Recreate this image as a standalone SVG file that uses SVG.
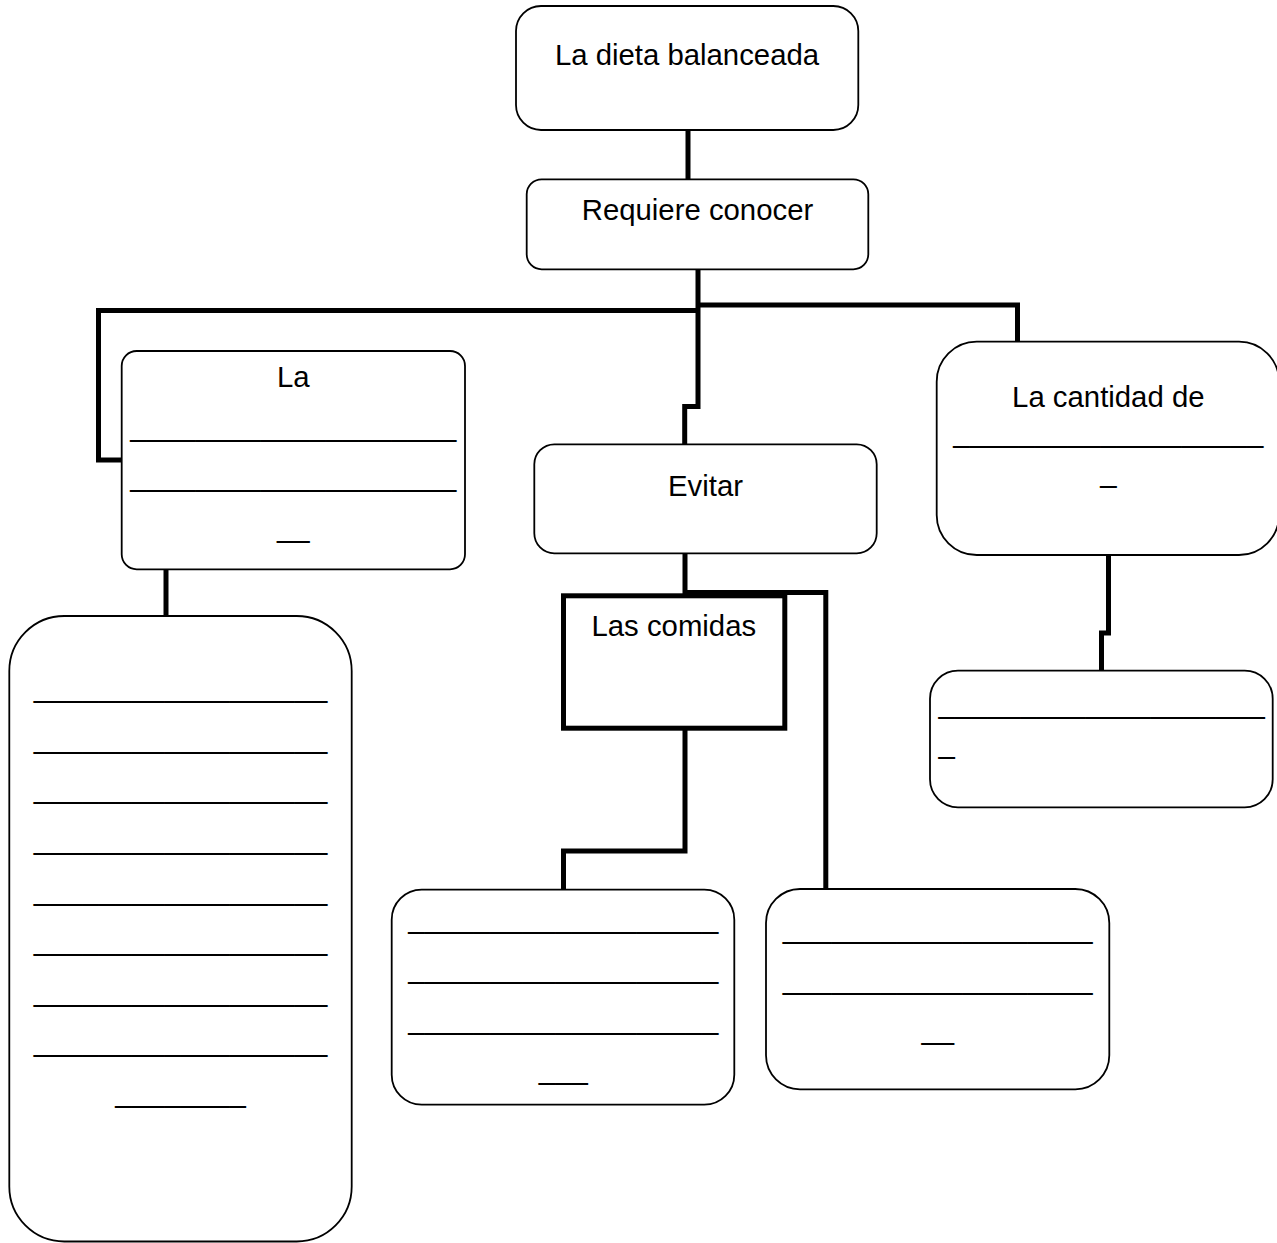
<svg xmlns="http://www.w3.org/2000/svg" width="1277" height="1243" viewBox="0 0 1277 1243">
<style>
.box{fill:#fff;stroke:#000;stroke-width:1.8}
.thick{fill:#fff;stroke:#000;stroke-width:5}
.t{font-family:"Liberation Sans",Arial,sans-serif;font-size:29.33px;fill:#000}
.m{text-anchor:middle}
.conn{fill:none;stroke:#000;stroke-width:5}
</style>
<rect x="0" y="0" width="1277" height="1243" fill="#fff"/>
<g id="connectors">
<path class="conn" d="M688,130 V180"/>
<path class="conn" d="M698,269 V406.5 H684.7 V445"/>
<path class="conn" d="M698,310.5 H98.5 V460 H122"/>
<path class="conn" d="M698,305 H1017.5 V342"/>
<path class="conn" d="M166,569 V617"/>
<path class="conn" d="M685,553 V592.5 H825.8 V889"/>
<path class="conn" d="M685,728 V851 H563.5 V890"/>
<path class="conn" d="M1108.5,555 V633 H1101.5 V671"/>
</g>
<g id="n1">
<rect class="box" x="516" y="6" width="342.3" height="124" rx="25"/>
<text class="t m" x="687" y="65">La dieta balanceada</text>
</g>
<g id="n2">
<rect class="box" x="526.7" y="179.3" width="341.6" height="90" rx="15"/>
<text class="t m" x="697.5" y="220">Requiere conocer</text>
</g>
<g id="n3">
<rect class="box" x="121.7" y="351" width="343.3" height="218.3" rx="15"/>
<text class="t m" x="293.3" y="387">La</text>
<text class="t m" x="293.3" y="435.8">____________________</text>
<text class="t m" x="293.3" y="485.8">____________________</text>
<text class="t m" x="293.3" y="536.8">__</text>
</g>
<g id="n4">
<rect class="box" x="534.3" y="444.3" width="342.4" height="109" rx="20"/>
<text class="t m" x="705.5" y="496">Evitar</text>
</g>
<g id="n5">
<rect class="box" x="936.7" y="341.7" width="342.3" height="213.3" rx="40"/>
<text class="t m" x="1108.3" y="407">La cantidad de</text>
<text class="t m" x="1108.3" y="442.1">___________________</text>
<text class="t m" x="1108.3" y="481.5">_</text>
</g>
<g id="n6">
<rect class="box" x="9.3" y="616" width="342.4" height="625.5" rx="55"/>
<text class="t m" x="180.5" y="696.5">__________________</text>
<text class="t m" x="180.5" y="747.5">__________________</text>
<text class="t m" x="180.5" y="797.5">__________________</text>
<text class="t m" x="180.5" y="848.8">__________________</text>
<text class="t m" x="180.5" y="899.8">__________________</text>
<text class="t m" x="180.5" y="949.8">__________________</text>
<text class="t m" x="180.5" y="1000.8">__________________</text>
<text class="t m" x="180.5" y="1050.5">__________________</text>
<text class="t m" x="180.5" y="1101.5">________</text>
</g>
<g id="n7">
<rect class="thick" x="563.5" y="595.8" width="221.3" height="132.4"/>
<text class="t m" x="673.8" y="636">Las comidas</text>
</g>
<g id="n8">
<rect class="box" x="930" y="670.7" width="342.7" height="136.6" rx="28"/>
<text class="t" x="938.6" y="713.1">____________________</text>
<text class="t" x="938.6" y="753.1">_</text>
</g>
<g id="n9">
<rect class="box" x="391.7" y="889.7" width="342.6" height="215" rx="30"/>
<text class="t m" x="563.3" y="927.6">___________________</text>
<text class="t m" x="563.3" y="977.8">___________________</text>
<text class="t m" x="563.3" y="1028.8">___________________</text>
<text class="t m" x="563.3" y="1078.8">___</text>
</g>
<g id="n10">
<rect class="box" x="766" y="889" width="343.3" height="200.3" rx="34"/>
<text class="t m" x="937.7" y="938.1">___________________</text>
<text class="t m" x="937.7" y="989.1">___________________</text>
<text class="t m" x="937.7" y="1039.1">__</text>
</g>
</svg>
